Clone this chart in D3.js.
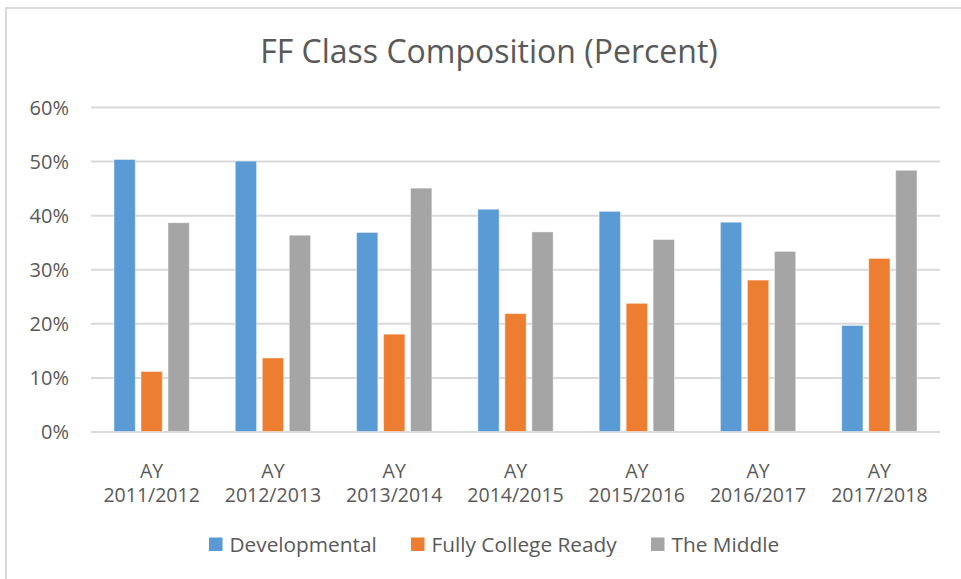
<!DOCTYPE html>
<html>
<head>
<meta charset="utf-8">
<script src="https://cdn.jsdelivr.net/npm/d3@7"></script>
<style>
  html, body { margin: 0; padding: 0; background: #fff; }
  svg { display: block; font-family: "Open Sans", sans-serif; }
</style>
</head>
<body>
<svg id="chart" width="961" height="579"></svg>
<script>
// Academic years on the category axis
const years = ["AY 2011/2012", "AY 2012/2013", "AY 2013/2014", "AY 2014/2015",
               "AY 2015/2016", "AY 2016/2017", "AY 2017/2018"];
const seriesNames = ["Developmental", "Fully College Ready", "The Middle"];
const seriesColors = ["#5B9BD5", "#ED7D31", "#A5A5A5"];

// Share of the FF class in each group (percent)
const developmental     = [50.3, 50.0, 36.8, 41.1, 40.7, 38.7, 19.6];
const fullyCollegeReady = [11.1, 13.6, 18.0, 21.8, 23.7, 28.0, 32.0];
const theMiddle         = [38.6, 36.3, 45.0, 36.9, 35.5, 33.3, 48.3];
const yTicks = [0, 10, 20, 30, 40, 50, 60];

const seriesValues = [developmental, fullyCollegeReady, theMiddle];
const rows = years.map((y, i) => ({
  year: y,
  values: seriesNames.map((s, k) => ({ series: s, value: seriesValues[k][i], color: seriesColors[k] }))
}));

const svg = d3.select("#chart");
const textColor = "#595959";
const gridColor = "#D9D9D9";

// Chart frame
svg.append("rect")
  .attr("x", 6).attr("y", 8)
  .attr("width", 980).attr("height", 600)
  .attr("fill", "#fff")
  .attr("stroke", gridColor).attr("stroke-width", 2);

// Title
svg.append("text")
  .attr("x", 489).attr("y", 63)
  .attr("text-anchor", "middle")
  .attr("font-size", 32)
  .attr("fill", textColor)
  .text("FF Class Composition (Percent)");

const plot = { left: 91, right: 940, top: 107, bottom: 431.5 };

const x0 = d3.scaleBand().domain(years).range([plot.left, plot.right]).padding(0);
const groupWidth = x0.step() * 0.621;
const x1 = d3.scaleBand().domain(seriesNames).range([0, groupWidth]).paddingInner(0.211).paddingOuter(0);
const y = d3.scaleLinear().domain([0, 60]).range([plot.bottom, plot.top]);

// Horizontal gridlines and percent labels
const yAxis = d3.axisLeft(y)
  .tickValues(yTicks)
  .tickSize(-(plot.right - plot.left))
  .tickPadding(22)
  .tickFormat(d => d + "%");

const gy = svg.append("g")
  .attr("transform", `translate(${plot.left},0)`)
  .call(yAxis);
gy.select(".domain").remove();
gy.selectAll(".tick line").attr("stroke", gridColor).attr("stroke-width", 2);
gy.selectAll(".tick text")
  .attr("fill", textColor)
  .attr("font-size", 20)
  .attr("font-family", "Open Sans, sans-serif")
  .attr("dy", "0.35em");

// Clustered bars
const groups = svg.append("g").selectAll("g")
  .data(rows)
  .join("g")
  .attr("transform", d => `translate(${x0(d.year) + (x0.step() - groupWidth) / 2},0)`);

groups.selectAll("rect")
  .data(d => d.values)
  .join("rect")
  .attr("x", d => x1(d.series))
  .attr("width", x1.bandwidth())
  .attr("y", d => y(d.value))
  .attr("height", d => y(0) - y(d.value))
  .attr("fill", d => d.color)
  .attr("stroke", "#fff")
  .attr("stroke-opacity", 0.45)
  .attr("stroke-width", 1);

// Category labels, two lines each
const xAxis = d3.axisBottom(x0).tickSize(0).tickFormat("");
const gx = svg.append("g")
  .attr("transform", `translate(0,${plot.bottom})`)
  .call(xAxis);
gx.select(".domain").remove();
gx.selectAll(".tick").each(function(d) {
  const parts = d.split(" ");
  const tick = d3.select(this);
  [46, 70].forEach((yy, j) => {
    tick.append("text")
      .attr("x", 0).attr("y", yy)
      .attr("fill", textColor)
      .attr("font-size", 19.5)
      .attr("font-family", "Open Sans, sans-serif")
      .attr("text-anchor", "middle")
      .text(parts[j]);
  });
});

// Legend
const legendX = [209, 411, 651];
const legend = svg.append("g").selectAll("g")
  .data(seriesNames)
  .join("g")
  .attr("transform", (d, i) => `translate(${legendX[i]},537.5)`);
legend.append("rect")
  .attr("width", 13.5).attr("height", 13.5)
  .attr("fill", (d, i) => seriesColors[i]);
legend.append("text")
  .attr("x", 20.5).attr("y", 14)
  .attr("font-size", 20.8)
  .attr("fill", textColor)
  .text(d => d);
</script>
</body>
</html>
